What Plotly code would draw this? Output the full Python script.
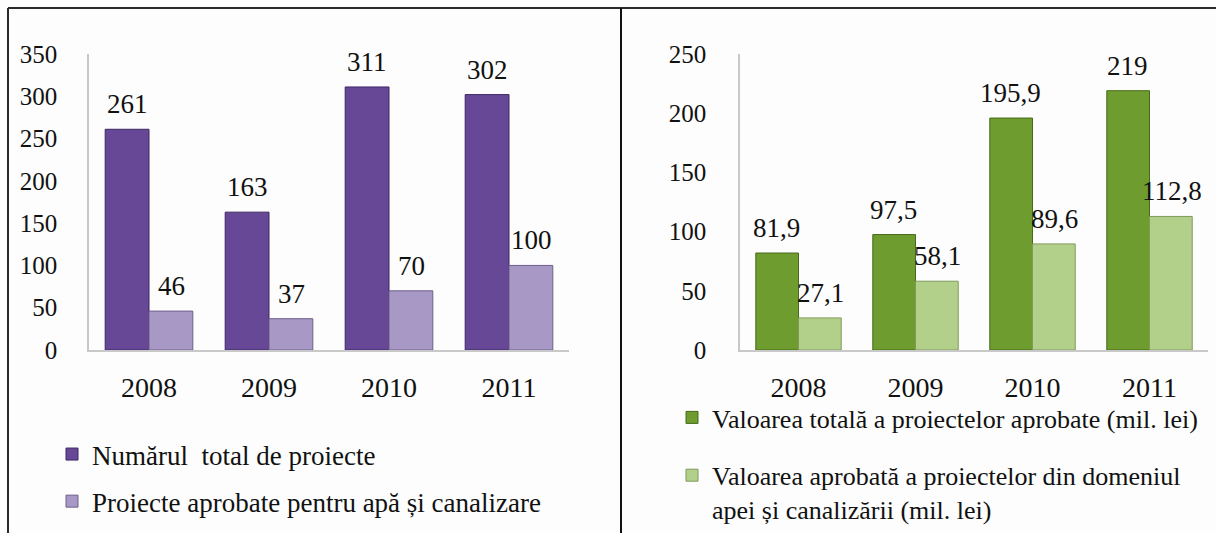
import plotly.graph_objects as go

years = ["2008", "2009", "2010", "2011"]
total_projects = [261, 163, 311, 302]
water_projects = [46, 37, 70, 100]
total_value = [81.9, 97.5, 195.9, 219]
water_value = [27.1, 58.1, 89.6, 112.8]

left_ticks = [0, 50, 100, 150, 200, 250, 300, 350]
right_ticks = [0, 50, 100, 150, 200, 250]

name_lt = "Numărul  total de proiecte"
name_lw = "Proiecte aprobate pentru apă și canalizare"
name_rt = "Valoarea totală a proiectelor aprobate (mil. lei)"
name_rw = "Valoarea aprobată a proiectelor din domeniul<br>apei și canalizării (mil. lei)"

W, H = 1216, 533
FONT = "'Liberation Serif', 'Times New Roman', 'DejaVu Serif', serif"

def fmt(v):
    s = ("%g" % v)
    return s.replace(".", ",")

fig = go.Figure()

fig.add_trace(go.Bar(x=years, y=total_projects, name=name_lt, xaxis="x", yaxis="y",
                     marker=dict(color="#664896", line=dict(color="#3e2766", width=1)),
                     legend="legend", legendgroup="a"))
fig.add_trace(go.Bar(x=years, y=water_projects, name=name_lw, xaxis="x", yaxis="y",
                     marker=dict(color="#a898c6", line=dict(color="#6e5f8c", width=1)),
                     legend="legend", legendgroup="b"))
fig.add_trace(go.Bar(x=years, y=total_value, name=name_rt, xaxis="x2", yaxis="y2",
                     marker=dict(color="#6e9c2e", line=dict(color="#476a1a", width=1)),
                     legend="legend2", legendgroup="c"))
fig.add_trace(go.Bar(x=years, y=water_value, name=name_rw, xaxis="x2", yaxis="y2",
                     marker=dict(color="#b3d08a", line=dict(color="#7f9a5c", width=1)),
                     legend="legend2", legendgroup="d"))

LABEL_SIZE = 27
annotations = []
def add_labels(vals, xref, yref, shift):
    for i, v in enumerate(vals):
        annotations.append(dict(x=i, y=v, xref=xref, yref=yref, text=fmt(v),
                                showarrow=False, xshift=shift, yshift=8,
                                yanchor="bottom", xanchor="center",
                                font=dict(family=FONT, size=LABEL_SIZE, color="#111")))
add_labels(total_projects, "x", "y", -22)
add_labels(water_projects, "x", "y", 22)
add_labels(total_value, "x2", "y2", -22)
add_labels(water_value, "x2", "y2", 22)

ydom = [1 - 350 / H, 1 - 54 / H]
tick_font = dict(family=FONT, size=25, color="#111")
cat_font = dict(family=FONT, size=28, color="#111")

shapes = [
    dict(type="line", xref="paper", yref="paper", x0=8 / W, x1=1, y0=1 - 8 / H, y1=1 - 8 / H,
         line=dict(color="#2a2a2a", width=2)),
    dict(type="line", xref="paper", yref="paper", x0=8 / W, x1=8 / W, y0=0, y1=1 - 8 / H,
         line=dict(color="#2a2a2a", width=2)),
    dict(type="line", xref="paper", yref="paper", x0=621 / W, x1=621 / W, y0=0, y1=1 - 8 / H,
         line=dict(color="#111", width=2)),
]

xcommon = dict(type="category", categoryorder="array", categoryarray=years,
               range=[-0.5, len(years) - 0.5],
               showline=True, linecolor="#c8c8c8", linewidth=1.5, ticks="",
               tickfont=cat_font, ticklabelstandoff=12, showgrid=False, zeroline=False,
               automargin=False)
ycommon = dict(showline=True, linecolor="#c8c8c8", linewidth=1.5, ticks="",
               tickfont=tick_font, showgrid=False, zeroline=False, automargin=False)

fig.update_layout(
    template="none",
    width=W, height=H,
    margin=dict(l=0, r=0, t=0, b=0, autoexpand=False),
    paper_bgcolor="#fcfdfc", plot_bgcolor="rgba(0,0,0,0)",
    barmode="group", bargap=0.27, bargroupgap=0,
    showlegend=True,
    font=dict(family=FONT, size=25, color="#111"),
    xaxis=dict(domain=[89 / W, 569 / W], anchor="y", **xcommon),
    yaxis=dict(domain=ydom, anchor="x", range=[0, 350], tickvals=left_ticks,
               ticklabelstandoff=25, **ycommon),
    xaxis2=dict(domain=[740 / W, 1208 / W], anchor="y2", **xcommon),
    yaxis2=dict(domain=ydom, anchor="x2", range=[0, 250], tickvals=right_ticks,
                ticklabelstandoff=27, **ycommon),
    legend=dict(x=52 / W, y=1 - 430 / H, xanchor="left", yanchor="top",
                bgcolor="rgba(0,0,0,0)", font=dict(family=FONT, size=27, color="#111"),
                tracegroupgap=9, traceorder="grouped", itemwidth=30),
    legend2=dict(x=672 / W, y=1 - 394 / H, xanchor="left", yanchor="top",
                 bgcolor="rgba(0,0,0,0)", font=dict(family=FONT, size=26, color="#111"),
                 tracegroupgap=21, traceorder="grouped", valign="top", itemwidth=30),
    annotations=annotations,
    shapes=shapes,
)

fig.write_html("out.html", config={"displayModeBar": False},
               post_script="document.body.style.margin='0';document.body.style.overflow='hidden';")
